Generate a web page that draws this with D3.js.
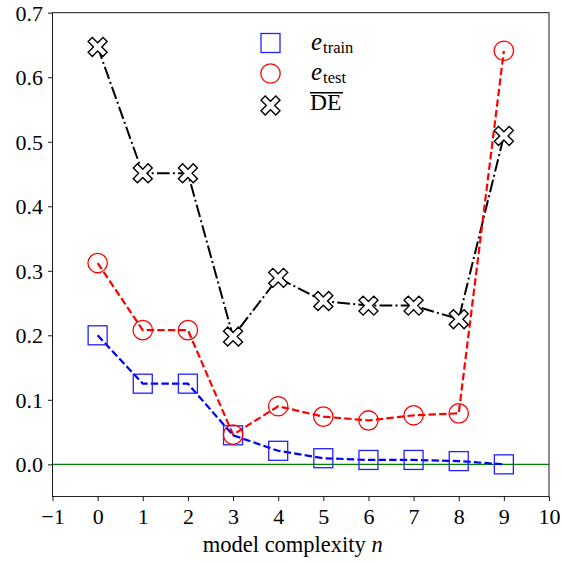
<!DOCTYPE html>
<html><head><meta charset="utf-8">
<script src="https://cdn.jsdelivr.net/npm/d3@7"></script>
<style>body{margin:0;background:#fff}svg{display:block}</style>
</head><body><svg id="c" width="562" height="562"></svg>
<script>
const complexity = [0,1,2,3,4,5,6,7,8,9];
const eTrain = [0.200,0.125,0.125,0.045,0.021,0.0095,0.0068,0.0068,0.005,0.000];
const eTest  = [0.312,0.208,0.208,0.046,0.090,0.074,0.068,0.076,0.079,0.641];
const DE     = [0.647,0.451,0.451,0.198,0.289,0.253,0.246,0.246,0.225,0.509];
const xTicks = [-1,0,1,2,3,4,5,6,7,8,9,10];
const yTicks = [0.0,0.1,0.2,0.3,0.4,0.5,0.6,0.7];

const FONT = '"Liberation Serif"';
const svg = d3.select("#c");
const L=52.5, R=549, T=12.7, B=496.6;
const x = d3.scaleLinear().domain([-1,10]).range([L,R]);
const y = d3.scaleLinear().domain([-0.05,0.7]).range([B,T]);

svg.append("line").attr("x1",L).attr("x2",R).attr("y1",y(0)).attr("y2",y(0))
  .attr("stroke","#008000").attr("stroke-width",1.1);

const xa = svg.append("g").attr("transform",`translate(0,${B})`)
  .call(d3.axisBottom(x).tickValues(xTicks).tickSize(4.5).tickPadding(6).tickFormat(d=>d<0?"\u2212"+(-d):d));
const ya = svg.append("g").attr("transform",`translate(${L},0)`)
  .call(d3.axisLeft(y).tickValues(yTicks).tickSize(4.5).tickPadding(5).tickFormat(d3.format(".1f")));
[xa,ya].forEach(g=>{g.attr("font-family",FONT).attr("font-size",22);
  g.select(".domain").remove();g.selectAll("line").attr("stroke","#000").attr("stroke-width",0.9);
  g.selectAll("text").attr("font-size",22).attr("font-family",FONT).attr("fill","#000");});
xa.selectAll("text").attr("dy","0.75em");
ya.selectAll("text").attr("dy","0.34em");

svg.append("rect").attr("x",L).attr("y",T).attr("width",R-L).attr("height",B-T)
  .attr("fill","none").attr("stroke","#000").attr("stroke-width",0.9);

const line = d3.line().x((d,i)=>x(complexity[i])).y(d=>y(d));
function drawSeries(vals,color,dash,width){
  svg.append("path").datum(vals).attr("d",line).attr("fill","none")
    .attr("stroke",color).attr("stroke-width",width).attr("stroke-dasharray",dash);
}
const xPath = (s)=>{
  const a=s*0.22, b=s*0.5;
  const pts=[[-b,-b+a],[-b+a,-b],[0,-a],[b-a,-b],[b,-b+a],[a,0],[b,b-a],[b-a,b],[0,a],[-b+a,b],[-b,b-a],[-a,0]];
  return "M"+pts.map(p=>p.join(",")).join("L")+"Z";
};

drawSeries(DE,"#000","12.8,3.2,2,3.2",2);
drawSeries(eTest,"#ff0000","7.4,3.2",2.2);
drawSeries(eTrain,"#0000ff","7.4,3.2",2.2);

svg.append("g").selectAll("rect").data(eTrain).join("rect")
  .attr("x",(d,i)=>x(complexity[i])-9.5).attr("y",d=>y(d)-9.5).attr("width",19).attr("height",19)
  .attr("fill","none").attr("stroke","#2222ff").attr("stroke-width",1.3);
svg.append("g").selectAll("circle").data(eTest).join("circle")
  .attr("cx",(d,i)=>x(complexity[i])).attr("cy",d=>y(d)).attr("r",9.7)
  .attr("fill","none").attr("stroke","#ff0000").attr("stroke-width",1.3);
svg.append("g").selectAll("path").data(DE).join("path")
  .attr("transform",(d,i)=>`translate(${x(complexity[i])},${y(d)})`).attr("d",xPath(19))
  .attr("fill","#fff").attr("stroke","#000").attr("stroke-width",1.4);

const lg = svg.append("g").attr("font-family",FONT);
lg.append("rect").attr("x",261).attr("y",33.5).attr("width",19).attr("height",19)
  .attr("fill","none").attr("stroke","#2222ff").attr("stroke-width",1.3);
lg.append("circle").attr("cx",270.5).attr("cy",73.5).attr("r",9.7)
  .attr("fill","none").attr("stroke","#ff0000").attr("stroke-width",1.3);
lg.append("path").attr("transform","translate(270.5,105.5)").attr("d",xPath(19))
  .attr("fill","#fff").attr("stroke","#000").attr("stroke-width",1.4);
function mathLabel(yb,sub){
  const t=lg.append("text").attr("x",311).attr("y",yb).attr("font-size",25).attr("font-family",FONT).attr("fill","#000");
  t.append("tspan").attr("font-style","italic").text("e");
  t.append("tspan").attr("font-size",16.5).attr("dx",1).attr("dy",3).text(sub);
}
mathLabel(49.5,"train");
mathLabel(80,"test");
lg.append("text").attr("x",310).attr("y",110.3).attr("font-size",23.5).attr("font-family",FONT).attr("fill","#000").text("DE");
lg.append("line").attr("x1",310).attr("x2",343).attr("y1",92.7).attr("y2",92.7).attr("stroke","#000").attr("stroke-width",1.5);

const xl = svg.append("text").attr("x",(L+R)/2 - 8).attr("y",552).attr("text-anchor","middle")
  .attr("font-size",22.5).attr("font-family",FONT).attr("fill","#000");
xl.append("tspan").text("model complexity ");
xl.append("tspan").attr("font-style","italic").text("n");
</script></body></html>
